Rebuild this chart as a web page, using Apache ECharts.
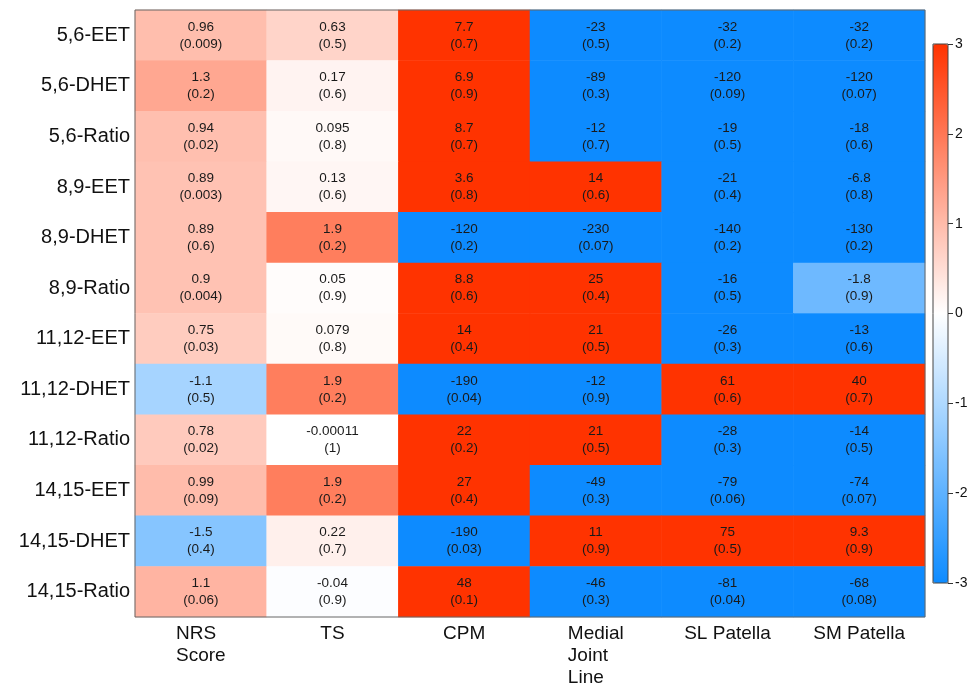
<!DOCTYPE html>
<html>
<head>
<meta charset="utf-8">
<script src="https://cdn.jsdelivr.net/npm/echarts@6/dist/echarts.min.js"></script>
<style>
  html, body { margin: 0; padding: 0; background: #fff; }
  #main { width: 971px; height: 684px; }
</style>
</head>
<body>
<div id="main"></div>
<script>
// rows (top to bottom) and columns
var rowNames = ['5,6-EET', '5,6-DHET', '5,6-Ratio', '8,9-EET', '8,9-DHET', '8,9-Ratio',
  '11,12-EET', '11,12-DHET', '11,12-Ratio', '14,15-EET', '14,15-DHET', '14,15-Ratio'];
var colNames = ['NRS\nScore', 'TS', 'CPM', 'Medial\nJoint\nLine', 'SL Patella', 'SM Patella'];

// estimate per row, in column order
var estimates = [
  [0.96, 0.63, 7.7, -23, -32, -32],
  [1.3, 0.17, 6.9, -89, -120, -120],
  [0.94, 0.095, 8.7, -12, -19, -18],
  [0.89, 0.13, 3.6, 14, -21, -6.8],
  [0.89, 1.9, -120, -230, -140, -130],
  [0.9, 0.05, 8.8, 25, -16, -1.8],
  [0.75, 0.079, 14, 21, -26, -13],
  [-1.1, 1.9, -190, -12, 61, 40],
  [0.78, -0.00011, 22, 21, -28, -14],
  [0.99, 1.9, 27, -49, -79, -74],
  [-1.5, 0.22, -190, 11, 75, 9.3],
  [1.1, -0.04, 48, -46, -81, -68]
];
// p-values per row
var pValues = [
  [0.009, 0.5, 0.7, 0.5, 0.2, 0.2],
  [0.2, 0.6, 0.9, 0.3, 0.09, 0.07],
  [0.02, 0.8, 0.7, 0.7, 0.5, 0.6],
  [0.003, 0.6, 0.8, 0.6, 0.4, 0.8],
  [0.6, 0.2, 0.2, 0.07, 0.2, 0.2],
  [0.004, 0.9, 0.6, 0.4, 0.5, 0.9],
  [0.03, 0.8, 0.4, 0.5, 0.3, 0.6],
  [0.5, 0.2, 0.04, 0.9, 0.6, 0.7],
  [0.02, 1, 0.2, 0.5, 0.3, 0.5],
  [0.09, 0.2, 0.4, 0.3, 0.06, 0.07],
  [0.4, 0.7, 0.03, 0.9, 0.5, 0.9],
  [0.06, 0.9, 0.1, 0.3, 0.04, 0.08]
];
var scaleTicks = [-3, -2, -1, 0, 1, 2, 3];

var cells = [];
for (var r = 0; r < rowNames.length; r++) {
  for (var c = 0; c < colNames.length; c++) {
    var v = estimates[r][c];
    var clipped = Math.max(-3, Math.min(3, v)); // colour scale saturates at +-3
    cells.push([c, r, clipped, v, pValues[r][c]]);
  }
}

var chart = echarts.init(document.getElementById('main'));
var option = {
  backgroundColor: '#fff',
  textStyle: { fontFamily: 'Liberation Sans, Arial, sans-serif' },
  grid: [
    { left: 135, top: 10, right: 46, bottom: 67, outerBoundsMode: 'none', containLabel: false,
      show: true, borderColor: '#666', borderWidth: 1, z: 5, backgroundColor: 'transparent' },
    // frame of the colour bar
    { left: 933, top: 44, width: 15, height: 539, outerBoundsMode: 'none', containLabel: false,
      show: true, borderColor: '#444', borderWidth: 1, z: 10, backgroundColor: 'transparent' },
    // thin strip right of the bar: its split lines are the tick marks
    { left: 948, top: 44, width: 5, height: 539, outerBoundsMode: 'none', containLabel: false,
      show: false }
  ],
  xAxis: [
    {
      type: 'category', gridIndex: 0, data: colNames,
      axisLine: { show: false }, axisTick: { show: false }, splitLine: { show: false },
      axisLabel: {
        interval: 0, margin: 6, color: '#111', fontSize: 19, lineHeight: 22,
        formatter: function (s) {
          return s.split('\n').map(function (t) { return '{l|' + t + '}'; }).join('\n');
        },
        rich: { l: { align: 'left', fontSize: 19, lineHeight: 22, color: '#111' } }
      }
    },
    { type: 'value', gridIndex: 1, show: false, min: 0, max: 1 },
    { type: 'value', gridIndex: 2, show: false, min: 0, max: 1 }
  ],
  yAxis: [
    {
      type: 'category', gridIndex: 0, data: rowNames, inverse: true,
      axisLine: { show: false }, axisTick: { show: false }, splitLine: { show: false },
      axisLabel: { interval: 0, margin: 5, color: '#111', fontSize: 20 }
    },
    { type: 'value', gridIndex: 1, show: false, min: -3, max: 3 },
    {
      type: 'value', gridIndex: 2, position: 'right', z: 10,
      min: scaleTicks[0], max: scaleTicks[scaleTicks.length - 1], interval: 1,
      axisLine: { show: false }, axisTick: { show: false },
      splitLine: { show: true, lineStyle: { color: '#333', width: 1 } },
      axisLabel: { margin: 2, color: '#111', fontSize: 14 }
    }
  ],
  visualMap: {
    type: 'continuous', seriesIndex: 0, dimension: 2,
    min: -3, max: 3, calculable: false, orient: 'vertical',
    left: 933, top: 44, itemWidth: 15, itemHeight: 539, padding: 0, z: 1,
    text: null, showLabel: false,
    inRange: { color: ['#0d8bff', '#ffffff', '#ff3300'] }
  },
  series: [{
    type: 'heatmap', xAxisIndex: 0, yAxisIndex: 0, data: cells,
    label: {
      show: true, color: '#1a1a1a', fontSize: 13.5, lineHeight: 17,
      formatter: function (p) { return p.data[3] + '\n(' + p.data[4] + ')'; }
    },
    itemStyle: { borderWidth: 0 },
    emphasis: { disabled: true }
  }]
};
chart.setOption(option);
</script>
</body>
</html>
